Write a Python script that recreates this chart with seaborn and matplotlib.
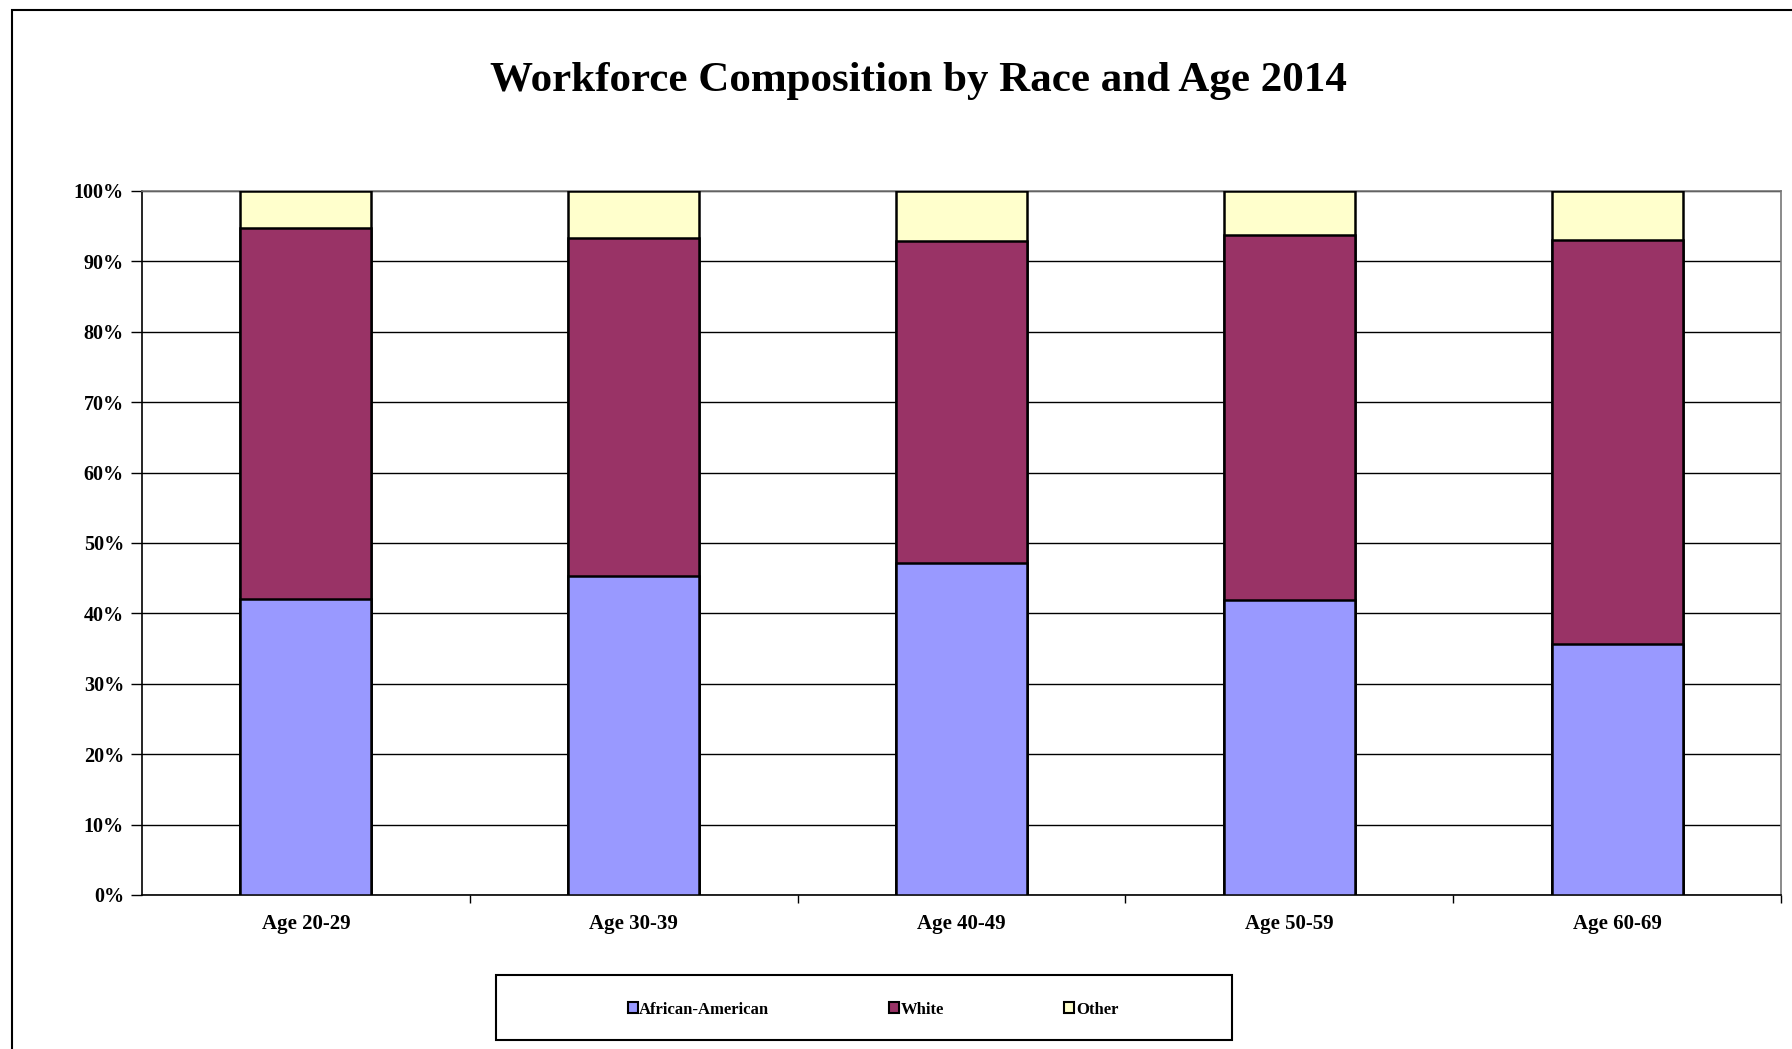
import pandas as pd
import matplotlib.pyplot as plt
import seaborn as sns
from matplotlib.patches import Patch, Rectangle
from matplotlib.ticker import FixedLocator, PercentFormatter

# Datos
grupos = ["Age 20-29", "Age 30-39", "Age 40-49", "Age 50-59", "Age 60-69"]
african_american = [42.0, 45.3, 47.1, 41.9, 35.7]
white = [52.8, 48.0, 45.8, 51.8, 57.3]
other = [5.2, 6.7, 7.1, 6.3, 7.0]

series = ["African-American", "White", "Other"]
colores = ["#9999FF", "#993366", "#FFFFCC"]

df = pd.DataFrame({"grupo": grupos, "aa": african_american,
                   "white": white, "other": other})
df["top_white"] = df["aa"] + df["white"]
df["top_other"] = df["top_white"] + df["other"]

sns.set_style("white")
plt.rcParams["font.family"] = ["Liberation Serif", "DejaVu Serif"]
plt.rcParams["font.weight"] = "bold"
plt.rcParams["text.color"] = "black"
plt.rcParams["xtick.color"] = "black"
plt.rcParams["ytick.color"] = "black"

fig = plt.figure(figsize=(17.92, 10.49), dpi=100)
ax = fig.add_axes([142 / 1792, 1 - 895 / 1049, (1781 - 142) / 1792, (895 - 191) / 1049])

# Barras apiladas (de arriba hacia abajo)
for col, c in zip(["top_other", "top_white", "aa"], colores[::-1]):
    sns.barplot(data=df, x="grupo", y=col, color=c, width=0.4,
                edgecolor="black", linewidth=1.8, saturation=1, ax=ax, zorder=3)

ax.set_xlim(-0.5, 4.5)
ax.set_ylim(0, 100)
ax.yaxis.set_major_locator(FixedLocator(range(0, 101, 10)))
ax.yaxis.set_major_formatter(PercentFormatter(decimals=0))
ax.grid(axis="y", color="black", linewidth=1.0, zorder=0)
ax.set_axisbelow(True)
ax.set_xlabel("")
ax.set_ylabel("")

for s in ["left", "bottom"]:
    ax.spines[s].set_color("black")
    ax.spines[s].set_linewidth(1.2)
for s in ["top", "right"]:
    ax.spines[s].set_color("#777777")
    ax.spines[s].set_linewidth(1.2)

ax.tick_params(axis="y", direction="out", length=8, width=1,
               pad=5, labelsize=14.5, left=True)
ax.xaxis.set_minor_locator(FixedLocator([0.5, 1.5, 2.5, 3.5, 4.5]))
ax.tick_params(axis="x", which="major", length=0, pad=14, labelsize=15)
ax.tick_params(axis="x", which="minor", direction="out", length=6, width=1,
               bottom=True)
for lbl in ax.get_xticklabels() + ax.get_yticklabels():
    lbl.set_fontweight("bold")

# Título
fig.text(918 / 1792, 1 - 81 / 1049, "Workforce Composition by Race and Age 2014",
         ha="center", va="center", fontsize=31, fontweight="bold")

# Marco exterior
fig.patches.append(Rectangle((12 / 1792, -0.1), 1.2, 1.1 - 10 / 1049,
                             transform=fig.transFigure, fill=False,
                             edgecolor="black", linewidth=1.5))

# Leyenda
lx0, ly0 = 496 / 1792, 1 - 1040 / 1049
lw, lh = 736 / 1792, 65 / 1049
fig.patches.append(Rectangle((lx0, ly0), lw, lh, transform=fig.transFigure,
                             fill=False, edgecolor="black", linewidth=1.5))
handles = [Patch(facecolor=c, edgecolor="black", linewidth=1.5) for c in colores]
fig.legend(handles, series, loc="center", bbox_to_anchor=(lx0 + lw / 2 + 0.005, ly0 + lh / 2 - 0.002),
           ncol=3, frameon=False, handlelength=0.6, handleheight=0.6,
           handletextpad=0.1, columnspacing=7.2, prop={"weight": "bold", "size": 12})

fig.savefig("out.png", dpi=100)
